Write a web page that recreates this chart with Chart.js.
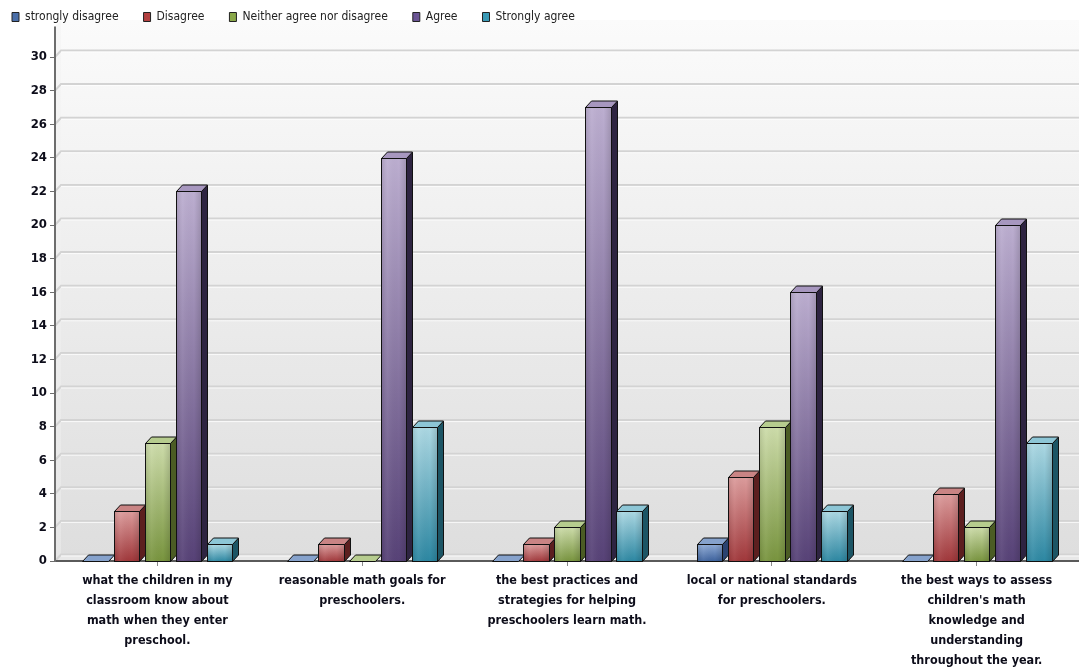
<!DOCTYPE html>
<html>
<head>
<meta charset="utf-8">
<script src="https://cdn.jsdelivr.net/npm/chart.js@4.4.1/dist/chart.umd.min.js"></script>
<style>
  html, body { margin: 0; padding: 0; background: #fff; }
  #wrap { width: 1079px; height: 670px; }
</style>
</head>
<body>
<div id="wrap"><canvas id="c" width="1079" height="670"></canvas></div>
<script>
// Survey statements (x categories, wrapped onto lines)
const categories = [
  ['what the children in my', 'classroom know about', 'math when they enter', 'preschool.'],
  ['reasonable math goals for', 'preschoolers.'],
  ['the best practices and', 'strategies for helping', 'preschoolers learn math.'],
  ['local or national standards', 'for preschoolers.'],
  ['the best ways to assess', "children's math", 'knowledge and', 'understanding', 'throughout the year.']
];

// Response options
const seriesNames = ['strongly disagree', 'Disagree', 'Neither agree nor disagree', 'Agree', 'Strongly agree'];

// Number of respondents per statement
const stronglyDisagree = [0, 0, 0, 1, 0];
const disagree         = [3, 1, 1, 5, 4];
const neither          = [7, 0, 2, 8, 2];
const agree            = [22, 24, 27, 16, 20];
const stronglyAgree    = [1, 8, 3, 3, 7];

// Value axis range
const yMin = 0, yMax = 30, yStep = 2;

// Colour set per response: legend swatch, front gradient (top/bottom), top face, side face
const palette = [
  { swatch: '#4a6ea8', light: '#8fabd6', dark: '#3c619c', top: '#86a2cc', side: '#2b4370' },
  { swatch: '#b34040', light: '#dc9c9c', dark: '#a0373a', top: '#c98484', side: '#5c1f1f' },
  { swatch: '#8aa84a', light: '#cddcaa', dark: '#78943e', top: '#b6cc8e', side: '#4b5c24' },
  { swatch: '#6a5494', light: '#bcaed0', dark: '#574277', top: '#a797bf', side: '#2e2441' },
  { swatch: '#3a9ab6', light: '#acd8e3', dark: '#2c87a2', top: '#8dc6d6', side: '#1c5565' }
];

const seriesValues = [stronglyDisagree, disagree, neither, agree, stronglyAgree];

const FONT = "'Liberation Sans Narrow', 'Arial Narrow', 'DejaVu Sans Condensed', sans-serif";
const DX = 6, DY = 6.5;   // depth offset of the 3D walls and bars
const WALL_TOP = 20;

// Back wall, left wall, floor and gridlines drawn behind everything
const wallsPlugin = {
  id: 'walls',
  beforeDraw(chart) {
    const { ctx, chartArea: a, scales: { y } } = chart;
    const L = a.left, R = a.right, B = a.bottom;
    ctx.save();
    // back wall
    const g = ctx.createLinearGradient(0, WALL_TOP, 0, B - DY);
    g.addColorStop(0, '#fbfbfb');
    g.addColorStop(1, '#dedede');
    ctx.fillStyle = g;
    ctx.fillRect(L + DX, WALL_TOP, R - L - DX, B - DY - WALL_TOP);
    // left wall
    const gl = ctx.createLinearGradient(0, WALL_TOP, 0, B);
    gl.addColorStop(0, '#f7f7f7');
    gl.addColorStop(1, '#e6e6e6');
    ctx.fillStyle = gl;
    ctx.beginPath();
    ctx.moveTo(L, WALL_TOP + DY);
    ctx.lineTo(L + DX, WALL_TOP);
    ctx.lineTo(L + DX, B - DY);
    ctx.lineTo(L, B);
    ctx.closePath();
    ctx.fill();
    // floor
    ctx.fillStyle = '#e8e8e8';
    ctx.beginPath();
    ctx.moveTo(L, B);
    ctx.lineTo(L + DX, B - DY);
    ctx.lineTo(R, B - DY);
    ctx.lineTo(R, B);
    ctx.closePath();
    ctx.fill();
    // gridlines on the back wall with their diagonal on the left wall
    y.ticks.forEach(t => {
      const py = y.getPixelForValue(t.value);
      ctx.strokeStyle = '#d3d3d3';
      ctx.lineWidth = 2;
      ctx.beginPath();
      ctx.moveTo(L, py);
      ctx.lineTo(L + DX, py - DY);
      ctx.lineTo(R, py - DY);
      ctx.stroke();
      ctx.strokeStyle = 'rgba(255,255,255,0.8)';
      ctx.lineWidth = 1;
      ctx.beginPath();
      ctx.moveTo(L + DX, py - DY + 1.5);
      ctx.lineTo(R, py - DY + 1.5);
      ctx.stroke();
    });
    // upper part of the value axis line
    ctx.strokeStyle = '#6d6d6d';
    ctx.lineWidth = 2;
    ctx.beginPath();
    ctx.moveTo(L, WALL_TOP + DY);
    ctx.lineTo(L, a.top);
    ctx.stroke();
    ctx.restore();
  }
};

// Extruded bars: front face with gradient, top face and right side face
const bars3dPlugin = {
  id: 'bars3d',
  afterDatasetsDraw(chart) {
    const ctx = chart.ctx;
    ctx.save();
    ctx.lineJoin = 'miter';
    ctx.strokeStyle = '#111';
    ctx.lineWidth = 1;
    chart.data.datasets.forEach((ds, i) => {
      const meta = chart.getDatasetMeta(i);
      const c = palette[i];
      meta.data.forEach(el => {
        const p = el.getProps(['x', 'y', 'base', 'width'], true);
        const l = Math.round(p.x - p.width / 2) + 0.5;
        const r = Math.round(p.x + p.width / 2) + 0.5;
        const t = Math.round(p.y) + 0.5;
        const b = Math.round(p.base) + 0.5;
        const h = b - t;
        if (h > 0.6) {
          // side face
          ctx.fillStyle = c.side;
          ctx.beginPath();
          ctx.moveTo(r, t);
          ctx.lineTo(r + DX, t - DY);
          ctx.lineTo(r + DX, b - DY);
          ctx.lineTo(r, b);
          ctx.closePath();
          ctx.fill();
          ctx.stroke();
          // front face
          const fg = ctx.createLinearGradient(0, t, 0, b);
          fg.addColorStop(0, c.light);
          fg.addColorStop(1, c.dark);
          ctx.fillStyle = fg;
          ctx.fillRect(l, t, r - l, h);
          const hg = ctx.createLinearGradient(l, 0, r, 0);
          hg.addColorStop(0, 'rgba(0,0,0,0.10)');
          hg.addColorStop(0.25, 'rgba(255,255,255,0.06)');
          hg.addColorStop(0.7, 'rgba(0,0,0,0)');
          hg.addColorStop(1, 'rgba(0,0,0,0.14)');
          ctx.fillStyle = hg;
          ctx.fillRect(l, t, r - l, h);
          ctx.strokeRect(l, t, r - l, h);
        }
        // top face
        ctx.fillStyle = c.top;
        ctx.beginPath();
        ctx.moveTo(l, t);
        ctx.lineTo(l + DX, t - DY);
        ctx.lineTo(r + DX, t - DY);
        ctx.lineTo(r, t);
        ctx.closePath();
        ctx.fill();
        ctx.stroke();
      });
    });
    ctx.restore();
  }
};

// Fixes the legend band height so the plot starts where it should
const legendBandPlugin = {
  id: 'legendBand',
  beforeLayout(chart) {
    const lg = chart.legend;
    if (lg && !lg._bandFixed) {
      const fit = lg.fit;
      lg.fit = function () { fit.call(this); this.height = 71; };
      lg._bandFixed = true;
    }
  }
};

const datasets = seriesNames.map((name, i) => ({
  label: name,
  data: seriesValues[i],
  backgroundColor: 'rgba(0,0,0,0)',
  borderWidth: 0,
  barPercentage: 0.82,
  categoryPercentage: 0.76
}));

new Chart(document.getElementById('c'), {
  type: 'bar',
  data: { labels: categories, datasets },
  plugins: [legendBandPlugin, wallsPlugin, bars3dPlugin],
  options: {
    responsive: false,
    animation: false,
    devicePixelRatio: 1,
    layout: { padding: { top: -14, left: -13, right: 0, bottom: 0 } },
    plugins: {
      tooltip: { enabled: false },
      legend: {
        position: 'top',
        align: 'start',
        labels: {
          boxWidth: 7,
          boxHeight: 9,
          padding: 25,
          color: '#222',
          font: { family: FONT, size: 12 },
          generateLabels(chart) {
            return chart.data.datasets.map((ds, i) => ({
              text: ds.label,
              fillStyle: palette[i].swatch,
              strokeStyle: '#222',
              lineWidth: 1,
              fontColor: '#222',
              hidden: false,
              datasetIndex: i
            }));
          }
        }
      }
    },
    scales: {
      x: {
        afterFit(s) { s.height = 109; },
        grid: { display: true, drawOnChartArea: false, offset: false, tickLength: 5, color: '#8a8a8a' },
        border: { display: true, color: '#5a5a5a', width: 2 },
        ticks: {
          maxRotation: 0, autoSkip: false, padding: 5, color: '#0d0d1a',
          font: { family: FONT, size: 12.5, weight: 'bold', lineHeight: '20px' }
        }
      },
      y: {
        min: yMin, max: yMax,
        afterFit(s) { s.width = 68; },
        grid: { display: true, drawOnChartArea: false, tickLength: 5, color: '#6d6d6d' },
        border: { display: true, color: '#6d6d6d', width: 2 },
        ticks: {
          stepSize: yStep, padding: 3, color: '#0d0d1a',
          font: { family: FONT, size: 13, weight: 'bold' }
        }
      }
    }
  }
});
</script>
</body>
</html>
